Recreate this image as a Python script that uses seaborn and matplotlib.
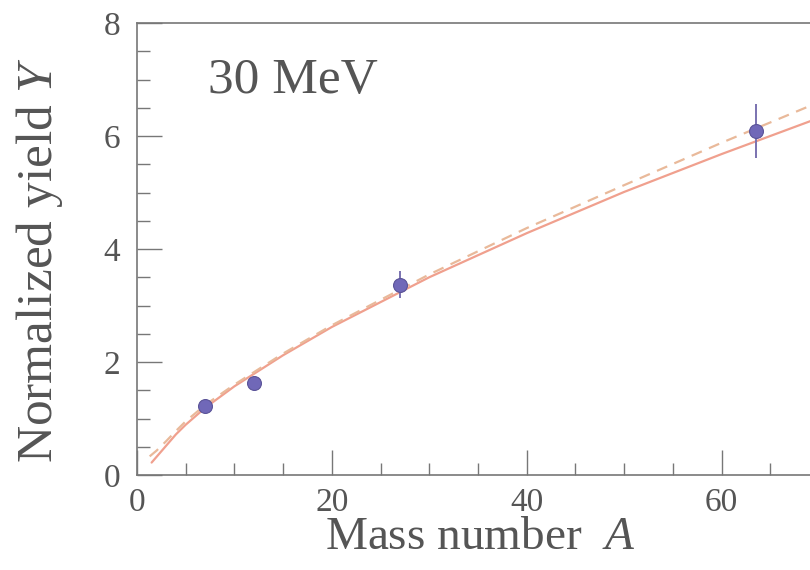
import matplotlib
matplotlib.use("Agg")
import matplotlib.pyplot as plt
from matplotlib.ticker import MultipleLocator
import pandas as pd
import seaborn as sns

# measured yields
mass_number = [7, 12, 27, 63.5]
yield_values = [1.22, 1.63, 3.37, 6.09]
yield_errors = [0.07, 0.08, 0.24, 0.48]

# curves
solid_A = [1.5, 2, 3, 4, 5, 7, 10, 15, 20, 30, 40, 50, 60, 70]
solid_Y = [0.22, 0.32, 0.52, 0.72, 0.89, 1.19, 1.57, 2.12, 2.62, 3.50, 4.28, 5.01, 5.68, 6.32]
dashed_A = [1.3, 2, 3, 4, 5, 7, 10, 15, 20, 30, 40, 50, 60, 70]
dashed_Y = [0.33, 0.43, 0.60, 0.78, 0.95, 1.24, 1.60, 2.15, 2.65, 3.55, 4.37, 5.13, 5.88, 6.60]

x_ticks = [0, 20, 40, 60]
y_ticks = [0, 2, 4, 6, 8]

sns.set_theme(style="ticks")
plt.rcParams["font.family"] = ["Liberation Serif", "DejaVu Serif"]
plt.rcParams["mathtext.fontset"] = "custom"
plt.rcParams["mathtext.rm"] = "Liberation Serif"
plt.rcParams["mathtext.it"] = "Liberation Serif:italic"

fig = plt.figure(figsize=(8.1, 5.7), dpi=100)
ax = fig.add_axes([137 / 810, 1 - 475 / 570, 682 / 810, 452 / 570])

solid_df = pd.DataFrame({"A": solid_A, "Y": solid_Y})
dashed_df = pd.DataFrame({"A": dashed_A, "Y": dashed_Y})
pts_df = pd.DataFrame({"A": mass_number, "Y": yield_values})

sns.lineplot(data=solid_df, x="A", y="Y", ax=ax, color="#f0a08e", lw=1.6, sort=False)
sns.lineplot(data=dashed_df, x="A", y="Y", ax=ax, color="#e9b99a", lw=1.6,
             sort=False, dashes=False, linestyle=(0, (5, 3.5)))
ax.errorbar(mass_number, yield_values, yerr=yield_errors, fmt="none",
            ecolor="#7a72b0", elinewidth=1.4, capsize=0, zorder=3)
sns.scatterplot(data=pts_df, x="A", y="Y", ax=ax, s=100, color="#7068b8",
                edgecolor="#5a5398", linewidth=0.8, zorder=4)

ax.set_xlim(0, 70)
ax.set_ylim(0, 8)
ax.set_xticks(x_ticks)
ax.set_yticks(y_ticks)
ax.xaxis.set_minor_locator(MultipleLocator(5))
ax.yaxis.set_minor_locator(MultipleLocator(0.5))
ax.tick_params(which="major", direction="in", length=18, width=1.0,
               color="#777777", labelsize=24, labelcolor="#555555", pad=12)
ax.tick_params(axis="x", which="major", pad=9)
ax.tick_params(which="minor", direction="in", length=9, width=1.0, color="#777777")
ax.tick_params(top=False, right=False, which="both")
for sp in ax.spines.values():
    sp.set_color("#777777")
    sp.set_linewidth(1.2)

ax.set_xlabel("Mass number  $\\mathit{A}$", fontsize=34, color="#555555")
ax.set_ylabel("Normalized yield $\\mathit{Y}$", fontsize=37, color="#555555")
ax.xaxis.set_label_coords(0.503, -0.092)
ax.yaxis.set_label_coords(-0.105, 0.476)

ax.text(7.3, 6.76, "30 MeV", fontsize=37, color="#555555", ha="left", va="baseline")

fig.savefig("out.png", dpi=100)
